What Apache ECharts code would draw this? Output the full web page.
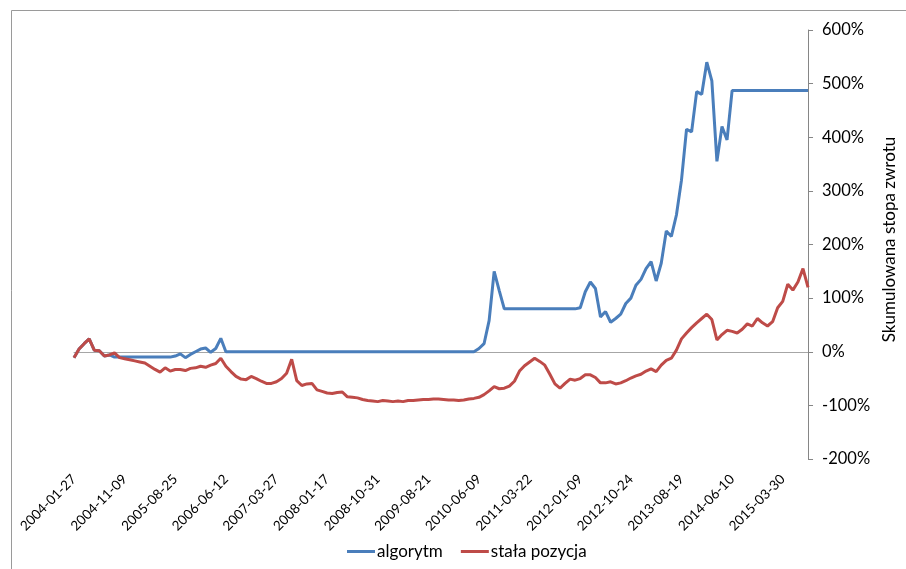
<!DOCTYPE html>
<html>
<head>
<meta charset="utf-8">
<script src="https://cdn.jsdelivr.net/npm/echarts@6/dist/echarts.min.js"></script>
<style>html,body{margin:0;padding:0;background:#fff;}#c{width:906px;height:569px;}</style>
</head>
<body>
<div id="c"></div>
<script>
const tickLabels = ['2004-01-27','2004-11-09','2005-08-25','2006-06-12','2007-03-27','2008-01-17','2008-10-31','2009-08-21','2010-06-09','2011-03-22','2012-01-09','2012-10-24','2013-08-19','2014-06-10','2015-03-30'];
const seriesNames = ['algorytm', 'stała pozycja'];
const algorytm = [
 -11, 5, 15, 24, 3, 2, -8, -6,
 -10, -10, -10, -10, -10, -10, -10, -10, -10, -10, -10, -10,
 -8, -4, -11, -5, 0, 5, 7, -1, 6, 25, 0,
 0, 0, 0, 0, 0, 0, 0, 0, 0, 0,
 0, 0, 0, 0, 0, 0, 0, 0, 0, 0,
 0, 0, 0, 0, 0, 0, 0, 0, 0, 0,
 0, 0, 0, 0, 0, 0, 0, 0, 0, 0,
 0, 0, 0, 0, 0, 0, 0, 0, 0,
 6, 15, 58, 150, 114, 80,
 80, 80, 80, 80, 80, 80, 80, 80, 80, 80, 80, 80, 80, 80,
 82, 112, 130, 118, 65, 75, 55, 62, 70, 90, 100, 124, 135, 155, 168, 132, 165, 225, 215, 255, 320, 415, 410, 485, 480, 540, 505, 355, 420, 395, 487,
 487, 487, 487, 487, 487, 487, 487, 487, 487, 487, 487, 487, 487, 487, 487
];
const stalaPozycja = [
 -11, 5, 15, 24, 3, 2, -8, -6, -2, -11,
 -13, -15, -17, -19, -21, -27, -33, -38, -30, -36,
 -33, -33, -35, -31, -30, -27, -29, -25, -22, -12,
 -27, -37, -46, -51, -52, -46, -50, -55, -59, -59,
 -56, -50, -40, -14, -54, -63, -60, -59, -71, -74,
 -77, -78, -76, -75, -84, -85, -86, -89, -91, -92,
 -93, -91, -92, -93, -92, -93, -91, -91, -90, -89,
 -89, -88, -88, -89, -90, -90, -91, -90, -88, -87,
 -85, -80, -73, -65, -69, -68, -64, -55, -36, -26,
 -19, -12, -18, -25, -42, -60, -68, -59, -51, -53,
 -50, -43, -43, -48, -58, -58, -56, -60, -58, -54,
 -49, -45, -42, -36, -32, -37, -25, -16, -12, 3,
 24, 35, 45, 54, 62, 70, 60, 22, 32, 40,
 38, 35, 42, 52, 48, 62, 54, 48, 56, 82,
 94, 126, 115, 130, 155, 120
];
const categories = algorytm.map((_, i) => (i % 10 === 0 && tickLabels[i / 10]) ? tickLabels[i / 10] : '');

const FONT = 'Lato';
const chart = echarts.init(document.getElementById('c'));
chart.setOption({
  animation: false,
  backgroundColor: '#fff',
  textStyle: { fontFamily: FONT },
  graphic: [{
    type: 'rect', z: -10, silent: true,
    shape: { x: 11.5, y: 10.5, width: 1000, height: 1000 },
    style: { fill: 'none', stroke: '#9a9a9a', lineWidth: 1 }
  }],
  grid: { left: 74, right: 96, top: 30, bottom: 110, containLabel: false },
  legend: {
    left: 347, top: 543, padding: 0,
    icon: 'rect', itemWidth: 28, itemHeight: 3, itemGap: 18,
    textStyle: { fontFamily: FONT, fontSize: 17, color: '#000', padding: [0, 0, 0, -3] },
    data: seriesNames
  },
  xAxis: [{
    type: 'category', data: categories, boundaryGap: false,
    axisLine: { show: false, onZero: false },
    axisTick: { show: false },
    axisLabel: { interval: 9, rotate: 45, margin: 18, fontFamily: FONT, fontSize: 13.5, color: '#000' },
    splitLine: { show: false }
  }, {
    type: 'category', data: categories, boundaryGap: false, position: 'bottom',
    axisLine: { show: true, onZero: true, lineStyle: { color: '#a6a6a6', width: 1 } },
    axisTick: { show: false }, axisLabel: { show: false }, splitLine: { show: false }
  }],
  yAxis: {
    type: 'value', position: 'right', min: -200, max: 600, interval: 100,
    name: 'Skumulowana stopa zwrotu', nameLocation: 'middle', nameRotate: 90, nameGap: 68,
    nameTextStyle: { fontFamily: FONT, fontSize: 17, color: '#000', padding: [0, 0, 0, 10] },
    axisLine: { show: true, lineStyle: { color: '#868686' } },
    axisTick: { show: true, length: 5, lineStyle: { color: '#868686' } },
    axisLabel: { formatter: '{value}%', margin: 14, fontFamily: FONT, fontSize: 16.5, color: '#000' },
    splitLine: { show: false }
  },
  series: [{
    name: seriesNames[0], type: 'line', data: algorytm, symbol: 'none',
    lineStyle: { color: '#4a7ebb', width: 3 }, itemStyle: { color: '#4a7ebb' }
  }, {
    name: seriesNames[1], type: 'line', data: stalaPozycja, symbol: 'none',
    lineStyle: { color: '#be4b48', width: 3 }, itemStyle: { color: '#be4b48' }
  }]
});
</script>
</body>
</html>
